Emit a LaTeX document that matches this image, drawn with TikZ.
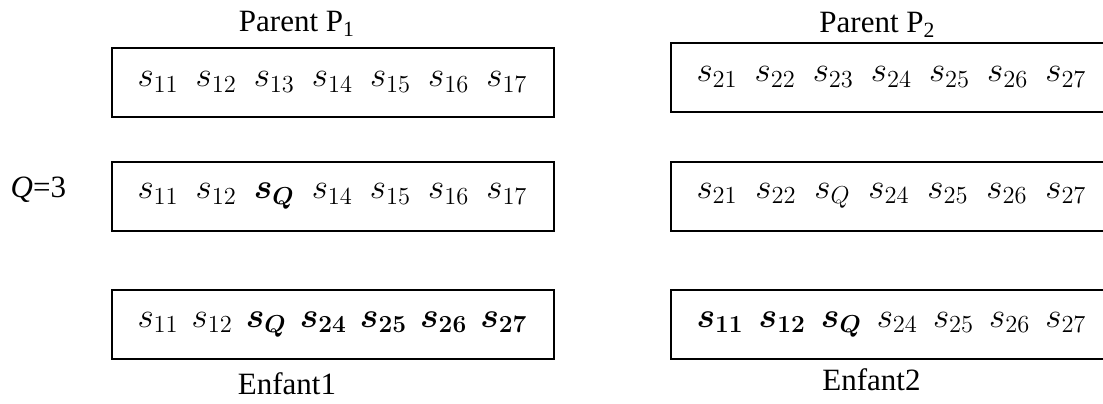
\RequirePackage{fix-cm}
\documentclass[tikz,border=0pt]{standalone}
\usepackage{amsmath,bm}
\usepackage[no-math]{fontspec}
\setmainfont{Liberation Serif}
\usetikzlibrary{positioning}

\begin{document}
\begin{tikzpicture}[
    x=0.5pt, y=-0.5pt,
    chrom/.style={rectangle, draw, line width=1pt, text width=195pt,
                  inner xsep=13pt, minimum height=34.5pt, align=left,
                  font=\fontsize{17.5}{20}\selectfont},
    chromR/.style={chrom, text width=235pt},
    etiq/.style={inner sep=0pt, font=\fontsize{15.5}{18}\selectfont}
]
\path[use as bounding box] (0,0) rectangle (1103,403);
\clip (0,0) rectangle (1103,403);

% Parents
\node[chrom] (p1) at (332.5,82)
  {$s_{11}$\hfill$s_{12}$\hfill$s_{13}$\hfill$s_{14}$\hfill$s_{15}$\hfill$s_{16}$\hfill$s_{17}$};
\node[chromR, right=57.5pt of p1, yshift=2.5pt] (p2)
  {$s_{21}$\hfill$s_{22}$\hfill$s_{23}$\hfill$s_{24}$\hfill$s_{25}$\hfill$s_{26}$\hfill$s_{27}$\hspace{40pt}\mbox{}};

% Croisement au point Q
\node[chrom, below=21.5pt of p1] (c1)
  {$s_{11}$\hfill$s_{12}$\hfill$\bm{s_Q}$\hfill$s_{14}$\hfill$s_{15}$\hfill$s_{16}$\hfill$s_{17}$};
\node[chromR, right=57.5pt of c1] (c2)
  {$s_{21}$\hfill$s_{22}$\hfill$s_Q$\hfill$s_{24}$\hfill$s_{25}$\hfill$s_{26}$\hfill$s_{27}$\hspace{40pt}\mbox{}};

% Enfants
\node[chrom, below=28.75pt of c1] (e1)
  {$s_{11}$\hfill$s_{12}$\hfill$\bm{s_Q}$\hfill$\bm{s_{24}}$\hfill$\bm{s_{25}}$\hfill$\bm{s_{26}}$\hfill$\bm{s_{27}}$};
\node[chromR, right=57.5pt of e1] (e2)
  {$\bm{s_{11}}$\hfill$\bm{s_{12}}$\hfill$\bm{s_Q}$\hfill$s_{24}$\hfill$s_{25}$\hfill$s_{26}$\hfill$s_{27}$\hspace{40pt}\mbox{}};

% Etiquettes
\node[etiq, above=5pt of p1, xshift=-17.75pt] (lp1) {Parent P\textsubscript{1}};
\node[etiq, above=2pt of p2, xshift=-27pt] (lp2) {Parent P\textsubscript{2}};
\node[etiq, left=22pt of c1, yshift=3pt] (lq) {\textit{Q}=3};
\node[etiq, below=6pt of e1, xshift=-22.75pt] (le1) {Enfant1};
\node[etiq, below=4pt of e2, xshift=-30pt] (le2) {Enfant2};

\end{tikzpicture}
\end{document}
